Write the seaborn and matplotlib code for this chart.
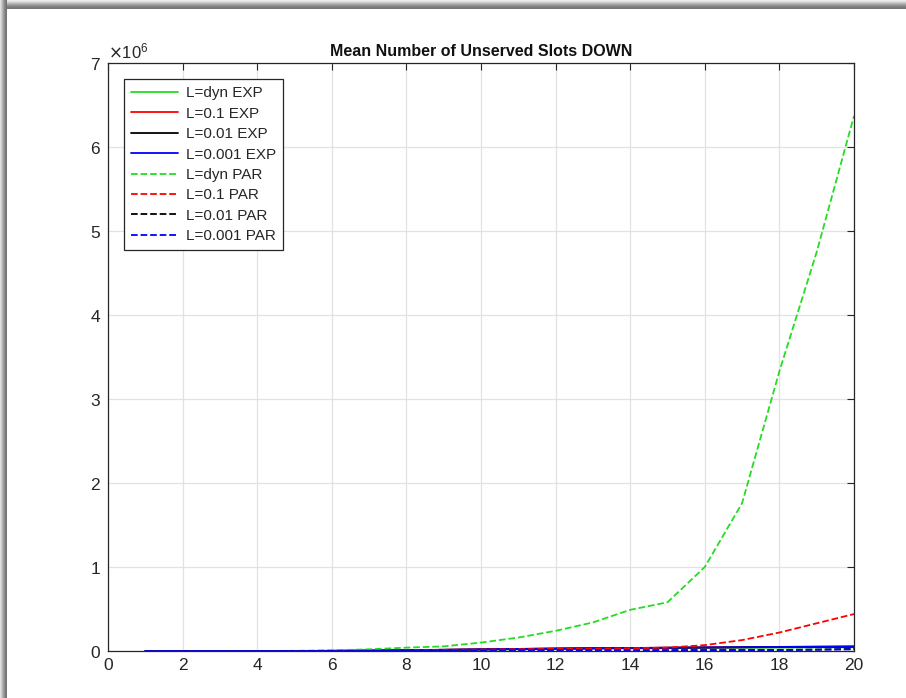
import numpy as np
import pandas as pd
import matplotlib
matplotlib.use("Agg")
import matplotlib.pyplot as plt
import seaborn as sns
from matplotlib.patches import Rectangle
from matplotlib.ticker import ScalarFormatter

sns.set_theme(style="white")
plt.rcParams['font.family'] = ['Liberation Sans', 'DejaVu Sans']

x_vals = list(range(1, 21))

dyn_exp = [0, 0, 0, 0, 300, 1500, 4000, 8000, 12000, 16000, 20000, 24000, 27000, 30000, 33000, 36000, 38000, 40000, 42000, 44000]
l01_exp = [0, 0, 0, 0, 500, 2000, 5000, 10000, 15000, 20000, 25000, 30000, 33000, 36000, 40000, 43000, 46000, 49000, 52000, 55000]
l001_exp = [0, 0, 0, 0, 400, 1800, 4500, 9000, 14000, 19000, 24000, 28000, 32000, 35000, 38000, 41000, 44000, 46000, 48000, 50000]
l0001_exp = [0, 0, 0, 0, 450, 1900, 4800, 9500, 14500, 19500, 24500, 29000, 32500, 35500, 39000, 42000, 45000, 48000, 51000, 54000]
dyn_par = [0, 0, 0, 0, 2000, 8000, 20000, 40000, 55000, 100000, 160000, 240000, 340000, 490000, 580000, 1000000, 1760000, 3330000, 4750000, 6370000]
l01_par = [0, 0, 0, 0, 500, 2000, 5000, 9000, 13000, 17000, 21000, 25000, 29000, 33000, 40000, 70000, 130000, 220000, 330000, 440000]
l001_par = [0, 0, 0, 0, 100, 400, 1000, 2000, 3000, 4000, 5000, 6000, 7000, 8000, 9000, 10000, 11000, 13000, 17000, 25000]
l0001_par = [0, 0, 0, 0, 80, 300, 800, 1500, 2500, 3500, 4500, 5500, 6500, 7500, 8500, 9500, 10500, 12000, 15000, 20000]

series = [
    ("L=dyn EXP", dyn_exp, "#22dd22", "-"),
    ("L=0.1 EXP", l01_exp, "#ff0000", "-"),
    ("L=0.01 EXP", l001_exp, "#000000", "-"),
    ("L=0.001 EXP", l0001_exp, "#0000ff", "-"),
    ("L=dyn PAR", dyn_par, "#22dd22", "--"),
    ("L=0.1 PAR", l01_par, "#ff0000", "--"),
    ("L=0.01 PAR", l001_par, "#000000", "--"),
    ("L=0.001 PAR", l0001_par, "#0000ff", "--"),
]

W, H = 906, 698
fig = plt.figure(figsize=(W / 100, H / 100), dpi=100)
fig.patch.set_facecolor("white")

# shadow frame (top and left)
top_grays = ["#ececec", "#dedede", "#cccccc", "#b8b8b8", "#a4a4a4", "#929292", "#848484", "#7a7a7a", "#767676"]
for i, c in enumerate(top_grays):
    fig.patches.append(Rectangle((0, 1 - (i + 1) / H), 1, 1 / H, transform=fig.transFigure,
                                 facecolor=c, edgecolor="none", zorder=0))
left_grays = ["#e0e0e0", "#cccccc", "#b6b6b6", "#a0a0a0", "#8c8c8c", "#7c7c7c", "#747474"]
for i, c in enumerate(left_grays):
    fig.patches.append(Rectangle((i / W, 0), 1 / W, 1, transform=fig.transFigure,
                                 facecolor=c, edgecolor="none", zorder=0))

ax = fig.add_axes([108 / W, 1 - 651 / H, (854 - 108) / W, (651 - 63) / H])

for label, vals, color, ls in series:
    df = pd.DataFrame({"x": x_vals, "y": vals})
    kw = dict(dashes=(5, 3)) if ls == "--" else {}
    sns.lineplot(data=df, x="x", y="y", ax=ax, color=color, linestyle=ls,
                 linewidth=1.3, label=label, **kw)

ax.set_xlim(0, 20)
ax.set_ylim(0, 7e6)
ax.set_xticks(np.arange(0, 21, 2))
ax.set_yticks(np.arange(0, 7.5e6, 1e6))
fmt = ScalarFormatter(useMathText=True)
fmt.set_powerlimits((0, 0))
ax.yaxis.set_major_formatter(fmt)
off = ax.yaxis.get_offset_text()
off.set_fontsize(12)
off.set_color("#262626")
ax.set_xlabel("")
ax.set_ylabel("")
ax.grid(True, color="#e2e2e2", linewidth=0.9)
ax.tick_params(direction="in", length=5, width=0.8, colors="#262626",
               labelsize=12.5, top=True, right=True, labelcolor="#262626", pad=5)
for s in ax.spines.values():
    s.set_color("#262626")
    s.set_linewidth(0.9)
ax.set_title("Mean Number of Unserved Slots DOWN", fontsize=11.5, fontweight="bold",
             color="#111111", pad=5)

leg = ax.legend(loc="upper left", bbox_to_anchor=(0.021, 0.972), fontsize=11,
                frameon=True, fancybox=False, framealpha=1, edgecolor="#262626",
                handlelength=3.1, handletextpad=0.5, labelspacing=0.42,
                borderpad=0.45, borderaxespad=0)
leg.get_frame().set_linewidth(0.9)

fig.savefig("out.png", dpi=100, facecolor="white")
